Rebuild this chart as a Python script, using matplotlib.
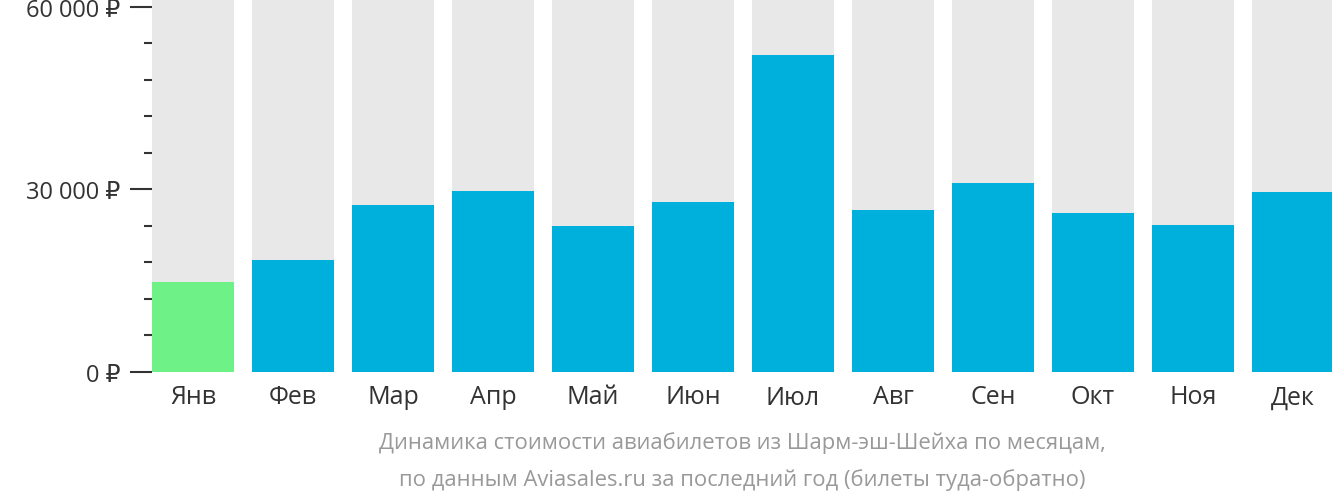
import matplotlib.pyplot as plt
from matplotlib.ticker import MultipleLocator

months = ["Янв", "Фев", "Мар", "Апр", "Май", "Июн", "Июл", "Авг", "Сен", "Окт", "Ноя", "Дек"]
prices = [14800, 18400, 27400, 29800, 24000, 27900, 52100, 26600, 31100, 26100, 24200, 29500]
top = 61300

plt.rcParams["font.family"] = ["Open Sans", "DejaVu Sans"]
fig = plt.figure(figsize=(13.32, 5.02), dpi=100)
ax = fig.add_axes([152 / 1332, 1 - 373 / 502, 1182 / 1332, 373 / 502])

x = range(len(months))
ax.bar(x, [top] * len(months), width=0.82, color="#e8e8e8")
colors = ["#6ef287" if p == min(prices) else "#00b0dc" for p in prices]
ax.bar(x, prices, width=0.82, color=colors)

ax.set_xlim(-0.41, 11.41)
ax.set_ylim(0, top)
for s in ax.spines.values():
    s.set_visible(False)
ax.set_xticks(list(x))
ax.set_xticklabels(months, fontsize=18, color="#333333")
ax.tick_params(axis="x", length=0, pad=9)
ax.set_yticks([0, 30000, 60000])
ax.set_yticklabels([f"{v:,}".replace(",", " ") + " ₽" for v in [0, 30000, 60000]])
ax.yaxis.set_minor_locator(MultipleLocator(6000))
ax.tick_params(axis="y", which="major", length=16, width=1.5, color="#333333",
               labelsize=17, labelcolor="#333333", pad=7)
ax.tick_params(axis="y", which="minor", length=6, width=1.5, color="#333333")

fig.text(0.557, 1 - 443 / 502, "Динамика стоимости авиабилетов из Шарм-эш-Шейха по месяцам,",
         ha="center", va="center", fontsize=15.8, color="#999999")
fig.text(0.557, 1 - 480 / 502, "по данным Aviasales.ru за последний год (билеты туда-обратно)",
         ha="center", va="center", fontsize=15.8, color="#999999")

fig.savefig("out.png")
